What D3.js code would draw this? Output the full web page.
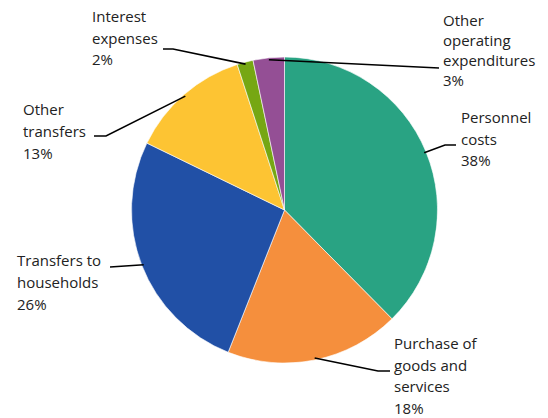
<!DOCTYPE html>
<html><head><meta charset="utf-8">
<script src="https://cdn.jsdelivr.net/npm/d3@7"></script>
<style>html,body{margin:0;padding:0;background:#fff;}svg{display:block;}</style>
</head><body>
<svg id="chart" width="548" height="418"></svg>
<script>
const categories = ["Personnel costs","Purchase of goods and services","Transfers to households","Other transfers","Interest expenses","Other operating expenditures"];
const values = [37.6, 18.4, 26.2, 12.8, 1.7, 3.3];
const labelLines = [["Personnel","costs"],["Purchase of","goods and","services"],["Transfers to","households"],["Other","transfers"],["Interest","expenses"],["Other","operating","expenditures"]];
const colors = ["#29a383","#f58f3d","#2150a6","#fdc433","#76a713","#944f95"];

// label layout: text anchor position, elbow & leader end
const layout = [
  {tx:461, ty:123, lh:21.5, elbow:[445,145], end:[456,145]},
  {tx:394, ty:349, lh:21.7, elbow:[378,371], end:[390,371]},
  {tx:17,  ty:266, lh:22,   elbow:null,      end:[110,267]},
  {tx:23,  ty:115, lh:22,   elbow:[106,136], end:[94,136]},
  {tx:92,  ty:22,  lh:21.5, elbow:[173,49],  end:[163,49]},
  {tx:443, ty:25.5,lh:20.3, elbow:null,      end:[439,68]}
];

const svg = d3.select("#chart");
const cx = 284.5, cy = 210, R = 153;
const g = svg.append("g").attr("transform", `translate(${cx},${cy})`);
const pie = d3.pie().sort(null).value(d => d);
const arcs = pie(values);
const arc = d3.arc().innerRadius(0).outerRadius(R);
g.selectAll("path.slice").data(arcs).join("path")
  .attr("class","slice")
  .attr("d", arc)
  .attr("fill", (d,i) => colors[i])
  .attr("stroke", "#fff").attr("stroke-width", 0.6);

const edge = d3.arc().innerRadius(R - 2).outerRadius(R - 2);
arcs.forEach((a, i) => {
  const c = edge.centroid(a);
  const p0 = [cx + c[0], cy + c[1]];
  const L = layout[i];
  const pts = [p0];
  if (L.elbow) pts.push(L.elbow);
  pts.push(L.end);
  svg.append("path")
    .attr("d", d3.line()(pts))
    .attr("fill","none").attr("stroke","#000").attr("stroke-width",1.6);
  const t = svg.append("text")
    .attr("x", L.tx).attr("y", L.ty)
    .attr("font-family","'Open Sans', sans-serif")
    .attr("font-size", 15).attr("fill","#222");
  const lines = labelLines[i].concat([Math.round(values[i]) + "%"]);
  lines.forEach((s, k) => {
    t.append("tspan").attr("x", L.tx).attr("y", L.ty + k * L.lh).text(s);
  });
});
</script>
</body></html>
